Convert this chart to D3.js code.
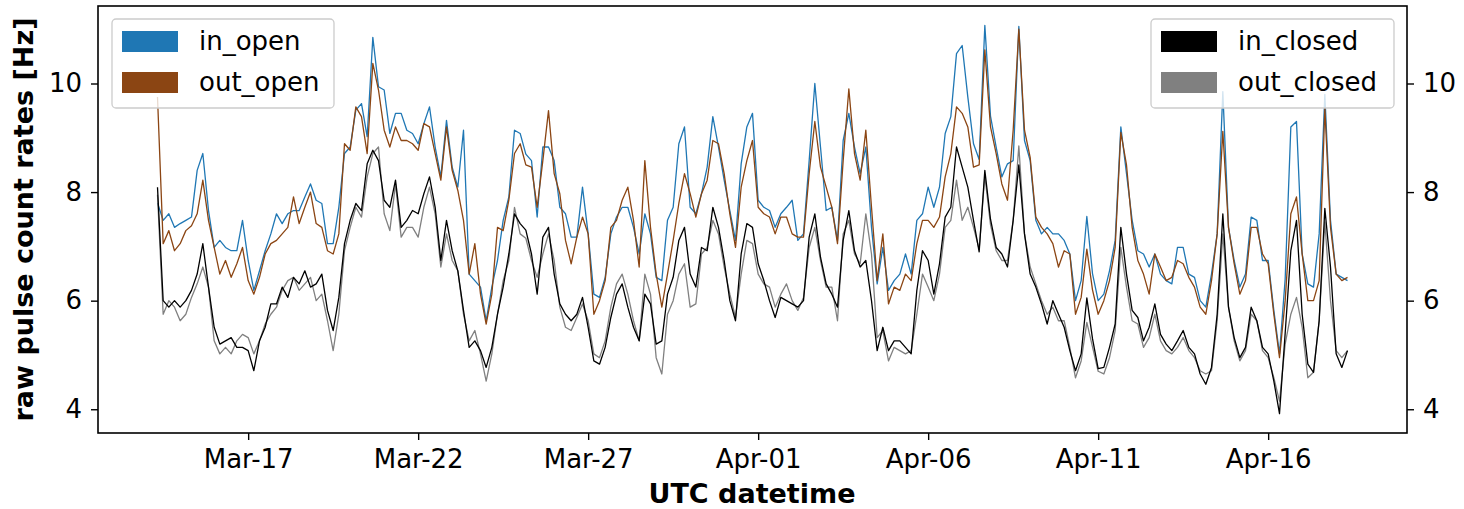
<!DOCTYPE html>
<html>
<head>
<meta charset="utf-8">
<script src="https://cdn.jsdelivr.net/npm/d3@7"></script>
<style>
  body { margin: 0; background: #fff; }
  svg { font-family: "DejaVu Sans", sans-serif; }
</style>
</head>
<body>
<svg id="chart" width="1464" height="509"></svg>
<script>
// data: 4-hourly samples starting Mar-14 08:00 UTC
var START = Date.UTC(2021, 2, 14, 8);
var STEP_HOURS = 4;

var in_open = [7.8,7.48,7.6,7.35,7.42,7.48,7.54,8.4,8.71,7.66,6.98,7.11,6.98,6.92,6.92,7.48,6.74,6.19,6.55,6.92,
  7.23,7.6,7.42,7.6,7.66,7.66,7.91,8.15,7.85,7.79,7.05,7.05,7.72,8.71,8.83,9.51,9.63,9.02,10.85,9.94,
  9.88,9.08,9.45,9.45,9.14,9.08,8.89,9.26,9.57,8.83,8.28,9.32,8.46,8.09,9.14,6.49,6.37,6.25,5.63,6.25,
  6.74,7.48,7.91,9.14,9.08,8.7,8.58,7.54,8.83,8.83,8.58,7.72,7.6,7.17,7.17,8.09,7.23,6.12,6.06,6.43,
  7.23,7.54,7.72,7.72,7.35,6.86,7.6,7.23,6.43,6.37,7.48,7.72,8.89,9.2,7.72,7.6,7.97,8.46,9.39,8.83,
  8.22,7.66,7.11,8.52,9.2,9.45,7.85,7.72,7.66,7.35,7.6,7.72,7.85,7.11,7.23,8.58,10.0,8.83,7.66,7.72,
  7.11,8.95,9.45,8.83,8.34,8.83,7.35,6.31,6.98,6.19,6.37,6.49,6.86,6.49,7.48,7.6,8.09,7.72,8.09,9.08,
  9.39,10.55,10.7,9.75,8.89,8.6,11.07,9.4,8.83,8.28,8.52,8.58,11.05,8.95,8.58,7.48,7.23,7.35,7.23,7.23,
  7.11,6.86,6.0,6.37,7.55,6.5,6.0,6.12,6.55,7.11,9.2,8.34,7.48,6.92,6.86,6.62,6.86,6.49,6.37,6.31,
  6.98,6.98,6.49,6.43,6.0,5.88,6.49,7.23,9.85,7.35,6.74,6.25,6.49,7.54,7.48,6.74,6.74,5.82,5.02,6.4,
  9.2,9.3,6.86,6.31,6.25,7.23,9.8,7.48,6.49,6.43,6.37];

var out_open = [9.75,7.05,7.29,6.92,7.05,7.29,7.38,7.6,8.22,7.48,6.98,6.49,6.74,6.43,6.68,6.98,6.37,6.12,6.43,6.86,
  7.05,7.11,7.23,7.35,7.91,7.42,7.72,8.0,7.42,7.35,6.92,6.86,7.23,8.89,8.77,9.57,9.39,8.71,10.37,9.88,
  9.14,8.83,9.2,8.95,8.95,8.89,8.77,9.26,9.2,8.71,8.22,9.2,8.4,8.03,7.48,6.49,7.05,6.12,5.57,6.12,
  7.35,7.29,7.85,8.71,8.89,8.5,8.46,7.72,8.58,9.5,8.34,7.97,7.11,6.68,7.17,7.54,7.23,5.75,6.0,6.37,
  7.35,7.48,7.85,8.09,7.48,6.62,8.58,7.35,6.49,5.88,6.49,7.11,7.79,8.34,7.97,7.54,7.97,8.22,8.95,8.89,
  8.34,7.6,6.98,8.09,8.58,8.95,7.72,7.6,7.54,7.23,7.54,7.54,7.23,7.17,7.17,8.34,9.3,8.46,8.09,7.72,
  7.05,8.58,9.9,8.71,8.22,9.14,7.72,6.37,7.23,5.94,6.25,6.19,6.49,6.37,7.05,7.48,7.48,7.35,7.54,8.28,
  8.71,9.57,9.45,9.2,8.46,8.5,10.62,9.2,8.71,8.15,7.85,9.14,11.0,9.14,8.64,7.54,7.35,7.23,7.05,6.62,
  6.92,6.86,5.75,6.06,6.95,6.2,5.75,6.0,6.37,6.98,9.1,8.5,7.35,6.74,6.49,6.12,6.86,6.62,6.37,6.43,
  6.74,6.68,6.43,6.25,5.88,5.75,6.37,7.23,9.12,7.35,6.68,6.12,6.37,7.35,7.35,6.86,6.68,5.75,4.95,6.0,
  7.6,7.91,6.86,6.0,6.0,6.37,9.55,7.35,6.49,6.37,6.43];

var in_closed = [8.09,6.0,5.88,6.0,5.88,6.0,6.19,6.49,7.05,6.25,5.51,5.2,5.26,5.32,5.14,5.14,5.08,4.71,5.26,5.51,
  5.94,5.94,6.25,6.06,6.43,6.31,6.55,6.25,6.31,6.49,5.82,5.45,6.06,7.05,7.48,7.79,7.66,8.52,8.77,8.58,
  7.85,7.72,8.22,7.35,7.48,7.66,7.6,7.97,8.28,7.72,6.74,7.48,6.92,6.55,5.82,5.14,5.26,5.08,4.77,5.14,
  5.75,6.25,6.86,7.6,7.42,7.3,6.86,6.12,7.17,7.35,6.49,5.94,5.75,5.63,5.75,6.06,5.51,4.89,4.83,5.14,
  5.69,6.12,6.31,5.88,5.51,5.26,6.12,5.94,5.2,5.26,6.12,6.43,7.11,7.35,6.49,6.25,6.98,6.92,7.72,7.35,
  6.74,6.0,5.63,6.86,7.42,7.35,6.68,6.37,6.0,5.69,6.06,6.0,5.94,5.88,6.0,7.17,7.6,6.8,6.31,6.12,
  5.88,7.11,7.66,6.92,6.62,6.74,6.0,5.08,5.51,5.08,5.26,5.26,5.14,5.02,6.19,6.92,6.74,6.12,6.68,7.54,
  7.72,8.83,8.46,8.09,7.48,6.9,8.4,7.5,6.98,6.86,6.62,7.48,8.5,7.23,6.49,6.25,5.94,5.57,6.0,5.75,
  5.51,5.08,4.71,5.02,6.05,5.3,4.75,4.77,5.14,5.57,7.35,6.49,5.82,5.69,5.26,5.51,5.94,5.38,5.2,5.08,
  5.26,5.45,5.14,5.02,4.65,4.46,4.77,5.75,7.6,5.88,5.32,4.95,5.14,5.88,5.63,5.14,5.02,4.52,3.92,5.4,
  6.92,7.48,5.75,4.83,4.68,5.63,7.7,6.62,5.02,4.77,5.08];

var out_closed = [7.95,5.75,6.0,5.88,5.63,5.75,6.06,6.31,6.62,6.25,5.26,5.02,5.14,5.02,5.26,5.38,5.32,5.02,5.26,5.57,
  5.75,5.88,6.19,6.37,6.43,6.19,6.31,6.43,6.0,6.12,5.63,5.08,5.75,6.92,7.35,7.72,7.54,8.28,8.71,8.83,
  7.6,7.29,8.15,7.17,7.35,7.35,7.17,7.72,8.09,7.6,6.62,7.23,6.74,6.55,5.75,5.26,5.45,5.02,4.52,5.02,
  5.75,6.37,6.74,7.72,7.23,7.15,6.74,6.43,6.86,7.23,6.74,5.88,5.51,5.45,5.69,5.94,5.63,5.02,4.95,5.26,
  5.88,6.31,6.49,6.12,5.63,5.26,6.49,6.12,4.95,4.65,5.75,6.0,6.49,6.68,5.88,5.94,6.86,6.98,7.48,7.23,
  6.62,6.12,5.69,6.49,7.11,7.05,6.49,6.31,6.25,5.88,6.12,6.31,6.0,5.82,6.06,6.98,7.35,6.74,6.25,6.25,
  5.63,7.23,7.48,6.86,6.68,7.6,6.86,5.32,5.45,4.89,5.14,5.08,5.02,5.08,5.75,6.49,6.25,6.0,6.49,7.35,
  7.48,8.22,7.48,7.72,7.35,6.95,8.3,7.4,6.92,6.74,6.74,7.48,8.85,7.23,6.62,6.31,6.0,5.75,5.88,5.63,
  5.63,5.14,4.58,4.89,5.6,5.15,4.7,4.65,4.95,5.45,6.98,6.25,5.63,5.57,5.14,5.32,5.75,5.26,5.08,5.02,
  5.14,5.32,5.08,4.95,4.71,4.65,4.71,5.63,7.23,5.88,5.26,4.89,5.08,5.75,5.63,5.08,4.95,4.58,4.15,5.2,
  5.75,6.06,5.51,4.58,4.68,5.63,7.45,6.0,5.08,4.95,5.08];

var seriesNames = ["in_open", "out_open", "in_closed", "out_closed"];
var seriesColors = ["#1f77b4", "#8b4513", "#000000", "#808080"];
var seriesData = [in_open, out_open, in_closed, out_closed];

var xTickDates = ["2021-03-17", "2021-03-22", "2021-03-27", "2021-04-01", "2021-04-06", "2021-04-11", "2021-04-16"];
var yTicks = [4, 6, 8, 10];

// layout
var W = 1464, H = 509;
var margin = {left: 98, right: 57, top: 6, bottom: 76};
var FONT = 26;

var svg = d3.select("#chart");
var plotW = W - margin.left - margin.right;
var plotH = H - margin.top - margin.bottom;

var times = in_open.map(function(d, i){ return new Date(START + i*STEP_HOURS*3600*1000); });

// 5% margins like matplotlib
var tExt = d3.extent(times);
var tPad = (tExt[1] - tExt[0]) * 0.05;
var allVals = [].concat(in_open, out_open, in_closed, out_closed);
var vExt = d3.extent(allVals);
var vPad = (vExt[1] - vExt[0]) * 0.05;

var x = d3.scaleUtc()
  .domain([new Date(+tExt[0] - tPad), new Date(+tExt[1] + tPad)])
  .range([margin.left, margin.left + plotW]);
var y = d3.scaleLinear()
  .domain([vExt[0] - vPad, vExt[1] + vPad])
  .range([margin.top + plotH, margin.top]);

var g = svg.append("g");

// lines
var line = d3.line()
  .x(function(d, i){ return x(times[i]); })
  .y(function(d){ return y(d); });

var drawOrder = [0, 1, 3, 2];
drawOrder.forEach(function(s){
  g.append("path")
    .datum(seriesData[s])
    .attr("d", line)
    .attr("fill", "none")
    .attr("stroke", seriesColors[s])
    .attr("stroke-width", 1.3)
    .attr("stroke-linejoin", "round");
});

// axes
var xAxis = d3.axisBottom(x)
  .tickValues(xTickDates.map(function(s){ return new Date(s + "T00:00:00Z"); }))
  .tickFormat(d3.utcFormat("%b-%d"))
  .tickSize(7).tickPadding(10);
var yLeft = d3.axisLeft(y).tickValues(yTicks).tickSize(7).tickPadding(9);
var yRight = d3.axisRight(y).tickValues(yTicks).tickSize(7).tickPadding(9);

function styleAxis(sel){
  sel.select(".domain").remove();
  sel.selectAll(".tick line").attr("stroke", "#000").attr("stroke-width", 1.4);
  sel.selectAll(".tick text").attr("fill", "#000").style("font-size", FONT + "px")
    .style("font-family", "DejaVu Sans");
}

g.append("g").attr("transform", "translate(0," + (margin.top + plotH) + ")").call(xAxis).call(styleAxis);
g.append("g").attr("transform", "translate(" + margin.left + ",0)").call(yLeft).call(styleAxis);
g.append("g").attr("transform", "translate(" + (margin.left + plotW) + ",0)").call(yRight).call(styleAxis);

// frame
g.append("rect")
  .attr("x", margin.left).attr("y", margin.top)
  .attr("width", plotW).attr("height", plotH)
  .attr("fill", "none").attr("stroke", "#000").attr("stroke-width", 1.6);

// axis labels
g.append("text")
  .attr("x", 752)
  .attr("y", 503)
  .attr("text-anchor", "middle")
  .style("font-size", "27px").style("font-weight", "bold")
  .text("UTC datetime");

g.append("text")
  .attr("transform", "translate(33," + (margin.top + plotH/2) + ") rotate(-90)")
  .attr("text-anchor", "middle")
  .style("font-size", "27px").style("font-weight", "bold")
  .text("raw pulse count rates [Hz]");

// legends
function legend(x0, y0, w, idx){
  var lg = g.append("g").attr("transform", "translate(" + x0 + "," + y0 + ")");
  lg.append("rect")
    .attr("width", w).attr("height", 89).attr("rx", 4).attr("ry", 4)
    .attr("fill", "#fff").attr("fill-opacity", 0.8)
    .attr("stroke", "#cccccc").attr("stroke-width", 1.3);
  idx.forEach(function(s, i){
    lg.append("rect")
      .attr("x", 10).attr("y", 12 + i*41)
      .attr("width", 56).attr("height", 21)
      .attr("fill", seriesColors[s]);
    lg.append("text")
      .attr("x", 87).attr("y", 31 + i*41)
      .style("font-size", FONT + "px")
      .text(seriesNames[s]);
  });
}
legend(112, 19, 222, [0, 1]);
legend(1151, 19, 243, [2, 3]);
</script>
</body>
</html>
